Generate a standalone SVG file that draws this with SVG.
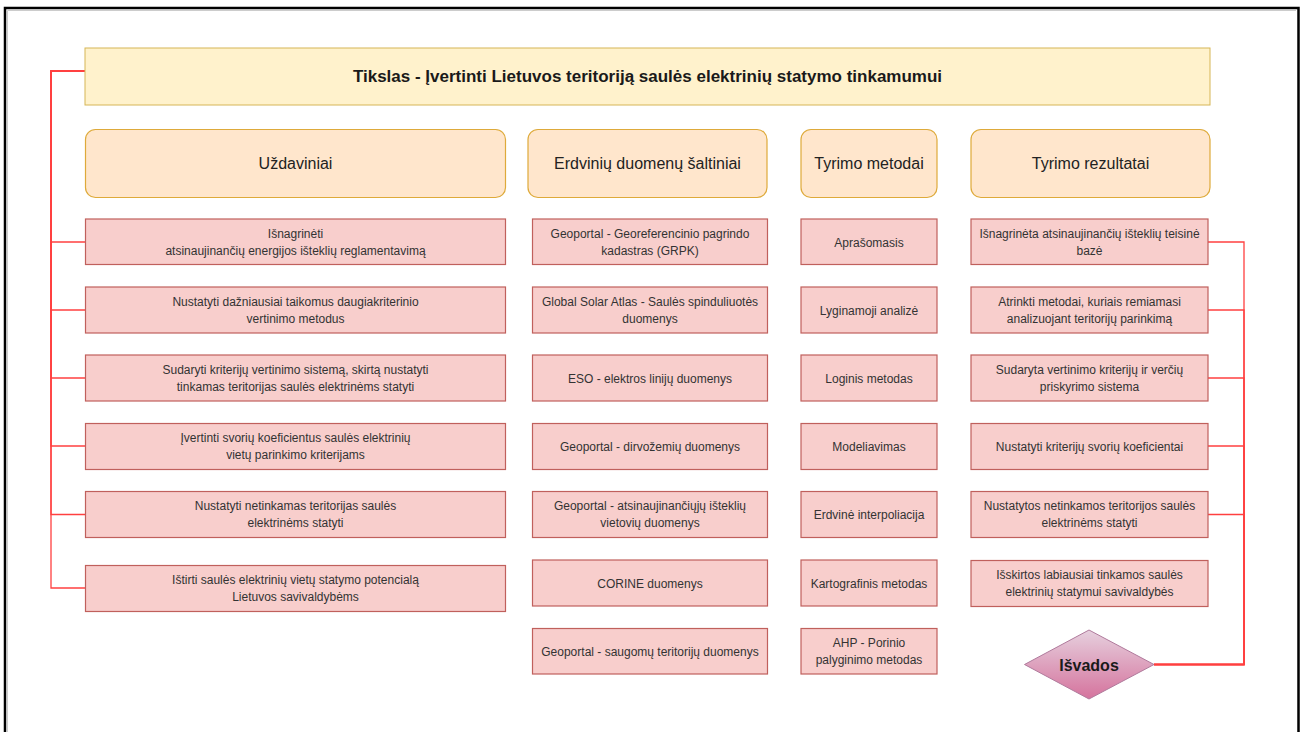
<svg xmlns="http://www.w3.org/2000/svg" width="1304" height="732" viewBox="0 0 1304 732">
<defs>
<linearGradient id="dg" x1="0" y1="0" x2="0" y2="1">
<stop offset="0" stop-color="#e6d0de"/>
<stop offset="1" stop-color="#d5739d"/>
</linearGradient>
<style>
text{font-family:"Liberation Sans",Arial,Helvetica,sans-serif;text-anchor:middle;fill:#333}
.t{font-size:17px;font-weight:bold;fill:#1a1a1a}
.h{font-size:16px;fill:#222}
.s{font-size:12px}
.d{font-size:16px;font-weight:bold;fill:#1a1a1a}
.title{fill:#fff2cc;stroke:#d6b656;stroke-width:1}
.hdr{fill:#ffe6cc;stroke:#deaa3a;stroke-width:1.2}
.box{fill:#f8cecc;stroke:#c0605c;stroke-width:1.2}
.dia{fill:url(#dg);stroke:#b07a9c;stroke-width:1}
.e{fill:none;stroke:#ff4040;stroke-width:1.3}
</style>
</defs>
<rect x="0" y="0" width="1304" height="732" fill="#fff"/>
<path d="M5,740 V8 H1298.5 V740" fill="none" stroke="#000" stroke-width="2.5"/>
<path d="M7.5,740 V10.5 H1296" fill="none" stroke="#ccc" stroke-width="1"/>

<g id="connectors">
<path class="e" d="M85,71 H51 V242 H85"/>
<path class="e" d="M85,71 H51 V310 H85"/>
<path class="e" d="M85,71 H51 V378 H85"/>
<path class="e" d="M85,71 H51 V446 H85"/>
<path class="e" d="M85,71 H51 V514.5 H85"/>
<path class="e" d="M85,71 H51 V588 H85"/>
<path class="e" d="M1208,242 H1244 V664.5 H1154"/>
<path class="e" d="M1208,310 H1244 V664.5 H1154"/>
<path class="e" d="M1208,378 H1244 V664.5 H1154"/>
<path class="e" d="M1208,446 H1244 V664.5 H1154"/>
<path class="e" d="M1208,514.5 H1244 V664.5 H1154"/>
</g>

<g id="title"><rect class="title" x="85" y="48" width="1125" height="57"/><text class="t" x="647.5" y="82">Tikslas - Įvertinti Lietuvos teritoriją saulės elektrinių statymo tinkamumui</text></g>

<g id="h-uzdaviniai"><rect class="hdr" x="85.5" y="129.5" width="420" height="68" rx="10"/><text class="h" x="295.5" y="169">Uždaviniai</text></g>
<g id="h-erdviniu"><rect class="hdr" x="528" y="129.5" width="239" height="68" rx="10"/><text class="h" x="647.5" y="169">Erdvinių duomenų šaltiniai</text></g>
<g id="h-metodai"><rect class="hdr" x="801" y="129.5" width="136" height="68" rx="10"/><text class="h" x="869" y="169">Tyrimo metodai</text></g>
<g id="h-rezultatai"><rect class="hdr" x="971" y="129.5" width="239" height="68" rx="10"/><text class="h" x="1090.5" y="169">Tyrimo rezultatai</text></g>

<g id="u1"><rect class="box" x="85.5" y="219" width="420" height="45.5"/><text class="s" x="295.5" y="237.5">Išnagrinėti</text><text class="s" x="295.5" y="254.5">atsinaujinančių energijos išteklių reglamentavimą</text></g>
<g id="u2"><rect class="box" x="85.5" y="287" width="420" height="46"/><text class="s" x="295.5" y="305.5">Nustatyti dažniausiai taikomus daugiakriterinio</text><text class="s" x="295.5" y="322.5">vertinimo metodus</text></g>
<g id="u3"><rect class="box" x="85.5" y="355" width="420" height="46"/><text class="s" x="295.5" y="373.5">Sudaryti kriterijų vertinimo sistemą, skirtą nustatyti</text><text class="s" x="295.5" y="390.5">tinkamas teritorijas saulės elektrinėms statyti</text></g>
<g id="u4"><rect class="box" x="85.5" y="423.5" width="420" height="46"/><text class="s" x="295.5" y="442">Įvertinti svorių koeficientus saulės elektrinių</text><text class="s" x="295.5" y="459">vietų parinkimo kriterijams</text></g>
<g id="u5"><rect class="box" x="85.5" y="491.5" width="420" height="46"/><text class="s" x="295.5" y="510">Nustatyti netinkamas teritorijas saulės</text><text class="s" x="295.5" y="527">elektrinėms statyti</text></g>
<g id="u6"><rect class="box" x="85.5" y="565.5" width="420" height="46"/><text class="s" x="295.5" y="584">Ištirti saulės elektrinių vietų statymo potencialą</text><text class="s" x="295.5" y="601">Lietuvos savivaldybėms</text></g>

<g id="e1"><rect class="box" x="532.5" y="219" width="235" height="45.5"/><text class="s" x="650" y="237.5">Geoportal - Georeferencinio pagrindo</text><text class="s" x="650" y="254.5">kadastras (GRPK)</text></g>
<g id="e2"><rect class="box" x="532.5" y="287" width="235" height="46"/><text class="s" x="650" y="305.5">Global Solar Atlas - Saulės spinduliuotės</text><text class="s" x="650" y="322.5">duomenys</text></g>
<g id="e3"><rect class="box" x="532.5" y="355" width="235" height="46"/><text class="s" x="650" y="382.5">ESO - elektros linijų duomenys</text></g>
<g id="e4"><rect class="box" x="532.5" y="423.5" width="235" height="46"/><text class="s" x="650" y="451">Geoportal - dirvožemių duomenys</text></g>
<g id="e5"><rect class="box" x="532.5" y="491.5" width="235" height="46"/><text class="s" x="650" y="510">Geoportal - atsinaujinančiųjų išteklių</text><text class="s" x="650" y="527">vietovių duomenys</text></g>
<g id="e6"><rect class="box" x="532.5" y="560" width="235" height="46"/><text class="s" x="650" y="587.5">CORINE duomenys</text></g>
<g id="e7"><rect class="box" x="532.5" y="628.5" width="235" height="45.5"/><text class="s" x="650" y="656">Geoportal - saugomų teritorijų duomenys</text></g>

<g id="m1"><rect class="box" x="801" y="219" width="136" height="45.5"/><text class="s" x="869" y="246.5">Aprašomasis</text></g>
<g id="m2"><rect class="box" x="801" y="287" width="136" height="46"/><text class="s" x="869" y="314.5">Lyginamoji analizė</text></g>
<g id="m3"><rect class="box" x="801" y="355" width="136" height="46"/><text class="s" x="869" y="382.5">Loginis metodas</text></g>
<g id="m4"><rect class="box" x="801" y="423.5" width="136" height="46"/><text class="s" x="869" y="451">Modeliavimas</text></g>
<g id="m5"><rect class="box" x="801" y="491.5" width="136" height="46"/><text class="s" x="869" y="519">Erdvinė interpoliacija</text></g>
<g id="m6"><rect class="box" x="801" y="560" width="136" height="46"/><text class="s" x="869" y="587.5">Kartografinis metodas</text></g>
<g id="m7"><rect class="box" x="801" y="628.5" width="136" height="45.5"/><text class="s" x="869" y="647">AHP - Porinio</text><text class="s" x="869" y="664">palyginimo metodas</text></g>

<g id="r1"><rect class="box" x="971" y="219" width="237" height="45.5"/><text class="s" x="1089.5" y="237.5">Išnagrinėta atsinaujinančių išteklių teisinė</text><text class="s" x="1089.5" y="254.5">bazė</text></g>
<g id="r2"><rect class="box" x="971" y="287" width="237" height="46"/><text class="s" x="1089.5" y="305.5">Atrinkti metodai, kuriais remiamasi</text><text class="s" x="1089.5" y="322.5">analizuojant teritorijų parinkimą</text></g>
<g id="r3"><rect class="box" x="971" y="355" width="237" height="46"/><text class="s" x="1089.5" y="373.5">Sudaryta vertinimo kriterijų ir verčių</text><text class="s" x="1089.5" y="390.5">priskyrimo sistema</text></g>
<g id="r4"><rect class="box" x="971" y="423.5" width="237" height="46"/><text class="s" x="1089.5" y="451">Nustatyti kriterijų svorių koeficientai</text></g>
<g id="r5"><rect class="box" x="971" y="491.5" width="237" height="46"/><text class="s" x="1089.5" y="510">Nustatytos netinkamos teritorijos saulės</text><text class="s" x="1089.5" y="527">elektrinėms statyti</text></g>
<g id="r6"><rect class="box" x="971" y="560.5" width="237" height="46"/><text class="s" x="1089.5" y="579">Išskirtos labiausiai tinkamos saulės</text><text class="s" x="1089.5" y="596">elektrinių statymui savivaldybės</text></g>

<g id="isvados"><polygon class="dia" points="1089,630 1154,664.5 1089,699 1024.5,664.5"/><text class="d" x="1089" y="670.5">Išvados</text></g>
</svg>
